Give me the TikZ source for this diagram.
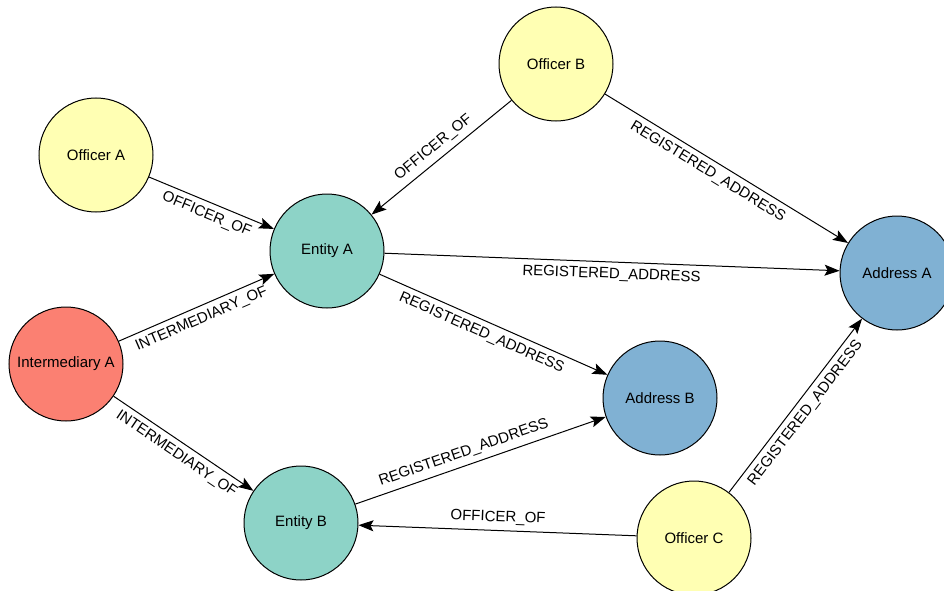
\documentclass[tikz,border=0pt]{standalone}
\usepackage{fontspec}
\setmainfont{Liberation Sans}
\usetikzlibrary{arrows.meta}
\definecolor{offc}{HTML}{FFFFB3}
\definecolor{entc}{HTML}{8DD3C7}
\definecolor{intc}{HTML}{FB8072}
\definecolor{addc}{HTML}{80B1D3}
\tikzset{
  gnode/.style={circle,draw=black,line width=1pt,minimum size=114pt,inner sep=0pt,font=\fontsize{15}{18}\selectfont},
  officer/.style={gnode,fill=offc},
  entity/.style={gnode,fill=entc},
  inter/.style={gnode,fill=intc},
  addr/.style={gnode,fill=addc},
  rel/.style={draw=black,line width=1pt,-{Stealth[length=15pt,width=11pt,inset=3pt]}},
  lbl/.style={sloped,font=\fontsize{15}{18}\selectfont,inner sep=5.5pt}
}
\begin{document}
\begin{tikzpicture}[x=1pt,y=-1pt]
\useasboundingbox (0,0) rectangle (944,591);
\clip (0,0) rectangle (944,591);
\node[officer] (oa) at (96,155) {Officer A};
\node[officer] (ob) at (556,64) {Officer B};
\node[officer] (oc) at (694,538) {Officer C};
\node[entity] (ea) at (327,251) {Entity A};
\node[entity] (eb) at (301,523) {Entity B};
\node[inter] (ia) at (66,364) {Intermediary A};
\node[addr] (aa) at (897,273) {Address A};
\node[addr] (ab) at (660,398) {Address B};

\draw[rel] (oa) -- node[lbl,below] {OFFICER\_OF} (ea);
\draw[rel] (ob) -- node[lbl,above] {OFFICER\_OF} (ea);
\draw[rel] (ob) -- node[lbl,below,pos=0.45] {REGISTERED\_ADDRESS} (aa);
\draw[rel] (ea) -- node[lbl,below] {REGISTERED\_ADDRESS} (aa);
\draw[rel] (ea) -- node[lbl,below,pos=0.47] {REGISTERED\_ADDRESS} (ab);
\draw[rel] (ia) -- node[lbl,below] {INTERMEDIARY\_OF} (ea);
\draw[rel] (ia) -- node[lbl,below] {INTERMEDIARY\_OF} (eb);
\draw[rel] (eb) -- node[lbl,above,pos=0.45] {REGISTERED\_ADDRESS} (ab);
\draw[rel] (oc) -- node[lbl,above] {OFFICER\_OF} (eb);
\draw[rel] (oc) -- node[lbl,below] {REGISTERED\_ADDRESS} (aa);
\end{tikzpicture}
\end{document}
